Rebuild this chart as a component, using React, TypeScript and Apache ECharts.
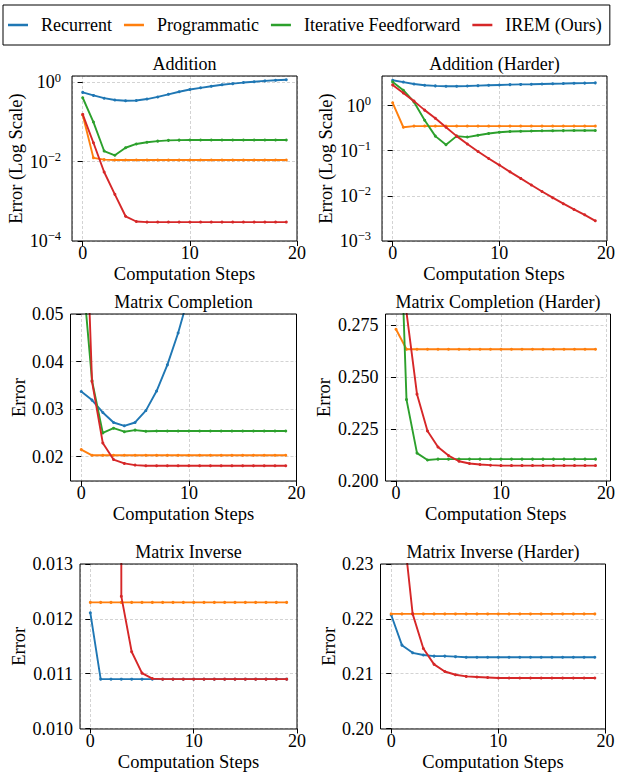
import React, { useEffect, useRef } from 'react';
import * as echarts from 'echarts';

const FONT = '"Liberation Serif", "Times New Roman", Times, serif';

const steps = [0, 1, 2, 3, 4, 5, 6, 7, 8, 9, 10, 11, 12, 13, 14, 15, 16, 17, 18, 19];
const methodNames = ['Recurrent', 'Programmatic', 'Iterative Feedforward', 'IREM (Ours)'];
const methodColors = ['#1f77b4', '#ff7f0e', '#2ca02c', '#d62728'];
const panelTitles = [
  'Addition',
  'Addition (Harder)',
  'Matrix Completion',
  'Matrix Completion (Harder)',
  'Matrix Inverse',
  'Matrix Inverse (Harder)',
];
const panelYNames = ['Error (Log Scale)', 'Error (Log Scale)', 'Error', 'Error', 'Error', 'Error'];
const xAxisName = 'Computation Steps';

// Addition
const additionRecurrent = [0.56, 0.47, 0.40, 0.36, 0.345, 0.35, 0.38, 0.43, 0.50, 0.58, 0.66, 0.73, 0.80, 0.87, 0.93, 0.99, 1.04, 1.09, 1.13, 1.17];
const additionProgrammatic = [0.15, 0.0125, 0.0113, 0.011, 0.011, 0.011, 0.011, 0.011, 0.011, 0.011, 0.011, 0.011, 0.011, 0.011, 0.011, 0.011, 0.011, 0.011, 0.011, 0.011];
const additionIterative = [0.41, 0.10, 0.0186, 0.0145, 0.0225, 0.028, 0.031, 0.033, 0.0345, 0.035, 0.0352, 0.0352, 0.0352, 0.0352, 0.0352, 0.0352, 0.0352, 0.0352, 0.0352, 0.0352];
const additionIREM = [0.156, 0.03, 0.0055, 0.0015, 0.00042, 0.00031, 0.0003, 0.0003, 0.0003, 0.0003, 0.0003, 0.0003, 0.0003, 0.0003, 0.0003, 0.0003, 0.0003, 0.0003, 0.0003, 0.0003];

// Addition (Harder)
const hardAddRecurrent = [3.63, 3.3, 3.0, 2.8, 2.72, 2.67, 2.66, 2.7, 2.75, 2.8, 2.85, 2.9, 2.93, 2.96, 3.0, 3.03, 3.06, 3.1, 3.13, 3.17];
const hardAddProgrammatic = [1.15, 0.33, 0.35, 0.35, 0.35, 0.35, 0.35, 0.35, 0.35, 0.35, 0.35, 0.35, 0.35, 0.35, 0.35, 0.35, 0.35, 0.35, 0.35, 0.35];
const hardAddIterative = [3.33, 2.18, 1.2, 0.47, 0.21, 0.135, 0.21, 0.2, 0.22, 0.24, 0.255, 0.265, 0.27, 0.272, 0.275, 0.277, 0.278, 0.279, 0.28, 0.28];
const hardAddIREM = [2.86, 1.9, 1.25, 0.79, 0.52, 0.33, 0.21, 0.14, 0.096, 0.067, 0.048, 0.034, 0.0243, 0.0174, 0.0125, 0.0091, 0.0067, 0.005, 0.0038, 0.0028];

// Matrix Completion
const completionRecurrent = [0.0337, 0.0319, 0.0293, 0.0272, 0.0265, 0.0272, 0.0297, 0.0338, 0.0393, 0.046, 0.054, 0.063, 0.073, 0.085, 0.098, 0.112, 0.127, 0.143, 0.16, 0.178];
const completionProgrammatic = [0.0215, 0.0203, 0.0203, 0.0203, 0.0203, 0.0203, 0.0203, 0.0203, 0.0203, 0.0203, 0.0203, 0.0203, 0.0203, 0.0203, 0.0203, 0.0203, 0.0203, 0.0203, 0.0203, 0.0203];
const completionIterative = [0.062, 0.036, 0.025, 0.026, 0.02526, 0.0256, 0.02535, 0.0254, 0.0254, 0.0254, 0.0254, 0.0254, 0.0254, 0.0254, 0.0254, 0.0254, 0.0254, 0.0254, 0.0254, 0.0254];
const completionIREM = [0.10, 0.0358, 0.0229, 0.0194, 0.0186, 0.01824, 0.0181, 0.0181, 0.0181, 0.0181, 0.0181, 0.0181, 0.0181, 0.0181, 0.0181, 0.0181, 0.0181, 0.0181, 0.0181, 0.0181];

// Matrix Completion (Harder)
const hardCompletionProgrammatic = [0.2729, 0.2633, 0.2633, 0.2633, 0.2633, 0.2633, 0.2633, 0.2633, 0.2633, 0.2633, 0.2633, 0.2633, 0.2633, 0.2633, 0.2633, 0.2633, 0.2633, 0.2633, 0.2633, 0.2633];
const hardCompletionIterative = [0.386, 0.2391, 0.2134, 0.2101, 0.2105, 0.2105, 0.2105, 0.2105, 0.2105, 0.2105, 0.2105, 0.2105, 0.2105, 0.2105, 0.2105, 0.2105, 0.2105, 0.2105, 0.2105, 0.2105];
const hardCompletionIREM = [0.40, 0.281, 0.2417, 0.224, 0.2163, 0.2122, 0.2095, 0.2084, 0.2079, 0.2076, 0.2074, 0.2074, 0.2074, 0.2074, 0.2074, 0.2074, 0.2074, 0.2074, 0.2074, 0.2074];

// Matrix Inverse
const inverseRecurrent = [0.01211, 0.0109, 0.0109, 0.0109, 0.0109, 0.0109, 0.0109, 0.0109, 0.0109, 0.0109, 0.0109, 0.0109, 0.0109, 0.0109, 0.0109, 0.0109, 0.0109, 0.0109, 0.0109, 0.0109];
const inverseProgrammatic = [0.0123, 0.0123, 0.0123, 0.0123, 0.0123, 0.0123, 0.0123, 0.0123, 0.0123, 0.0123, 0.0123, 0.0123, 0.0123, 0.0123, 0.0123, 0.0123, 0.0123, 0.0123, 0.0123, 0.0123];
const inverseIREM = [1.2, 0.8, 0.3, 0.01241, 0.0114, 0.01101, 0.01091, 0.0109, 0.0109, 0.0109, 0.0109, 0.0109, 0.0109, 0.0109, 0.0109, 0.0109, 0.0109, 0.0109, 0.0109, 0.0109];

// Matrix Inverse (Harder)
const hardInverseRecurrent = [0.2207, 0.2152, 0.2138, 0.2134, 0.2132, 0.2132, 0.2131, 0.213, 0.213, 0.213, 0.213, 0.213, 0.213, 0.213, 0.213, 0.213, 0.213, 0.213, 0.213, 0.213];
const hardInverseProgrammatic = [0.2209, 0.2209, 0.2209, 0.2209, 0.2209, 0.2209, 0.2209, 0.2209, 0.2209, 0.2209, 0.2209, 0.2209, 0.2209, 0.2209, 0.2209, 0.2209, 0.2209, 0.2209, 0.2209, 0.2209];
const hardInverseIREM = [0.27, 0.2391, 0.2209, 0.2146, 0.2117, 0.2104, 0.2098, 0.2095, 0.2094, 0.2093, 0.2092, 0.2092, 0.2092, 0.2092, 0.2092, 0.2092, 0.2092, 0.2092, 0.2092, 0.2092];

const panelData: (number[] | null)[][] = [
  [additionRecurrent, additionProgrammatic, additionIterative, additionIREM],
  [hardAddRecurrent, hardAddProgrammatic, hardAddIterative, hardAddIREM],
  [completionRecurrent, completionProgrammatic, completionIterative, completionIREM],
  [null, hardCompletionProgrammatic, hardCompletionIterative, hardCompletionIREM],
  [inverseRecurrent, inverseProgrammatic, null, inverseIREM],
  [hardInverseRecurrent, hardInverseProgrammatic, null, hardInverseIREM],
];

// layout (pixels)
const gridBoxes = [
  { left: 72, top: 76, width: 225, height: 165 },
  { left: 382, top: 76, width: 225, height: 165 },
  { left: 70.5, top: 314, width: 226, height: 167 },
  { left: 385.5, top: 314, width: 225, height: 167 },
  { left: 80, top: 564, width: 217, height: 165 },
  { left: 380.5, top: 564, width: 225, height: 165 },
];
const yNameGaps = [46, 47, 42.5, 52, 51, 42];

const superLabel = (v: number) => {
  const e = Math.round(Math.log10(v));
  const s = e < 0 ? '\u2212' + String(-e) : String(e);
  return `{b|10}{e|${s}}`;
};

const yAxisSpecs: any[] = [
  { type: 'log', logBase: 10, min: 1e-4, max: 1.45, interval: 2, log: true },
  { type: 'log', logBase: 10, min: 1e-3, max: 4.5, interval: 1, log: true },
  { type: 'value', min: 0.0149, max: 0.05, splitNumber: 4, digits: 2 },
  { type: 'value', min: 0.2, max: 0.2802, interval: 0.025, digits: 3 },
  { type: 'value', min: 0.01, max: 0.013, interval: 0.001, digits: 3 },
  { type: 'value', min: 0.2, max: 0.23, interval: 0.01, digits: 2 },
];

const gridLine = { show: true, lineStyle: { color: '#c8c8c8', type: [3, 2], width: 0.8 } };
const nameStyle = { fontSize: 18.5, fontFamily: FONT, color: '#000', fontWeight: 'normal' };

function buildOption() {
  const grid = gridBoxes.map((g) => ({ ...g, show: false, containLabel: false }));

  const xAxis = gridBoxes.map((_, i) => ({
    gridIndex: i,
    type: 'value',
    min: -1,
    max: 20,
    splitNumber: 2,
    axisLine: { show: false },
    axisTick: { show: true, length: 5, lineStyle: { color: '#000', width: 1 } },
    axisLabel: {
      showMinLabel: false,
      margin: 3,
      fontSize: 18,
      fontWeight: 'normal',
      fontFamily: FONT,
      color: '#000',
      formatter: (v: number) => String(Math.round(v)),
    },
    splitLine: gridLine,
    name: xAxisName,
    nameLocation: 'middle',
    nameGap: 23.5,
    nameTextStyle: nameStyle,
  }));

  const yAxis = yAxisSpecs.map((s, i) => {
    const base: any = {
      gridIndex: i,
      type: s.type,
      min: s.min,
      max: s.max,
      axisLine: { show: false },
      axisTick: { show: true, length: 5, lineStyle: { color: '#000', width: 1 } },
      splitLine: gridLine,
      name: panelYNames[i],
      nameLocation: 'middle',
      nameGap: yNameGaps[i],
      nameTextStyle: nameStyle,
    };
    if (s.interval != null) base.interval = s.interval;
    if (s.splitNumber != null) base.splitNumber = s.splitNumber;
    if (s.log) {
      base.logBase = s.logBase;
      base.axisLabel = {
        showMaxLabel: false,
        margin: 11,
        formatter: superLabel,
        rich: {
          b: { fontSize: 18, fontFamily: FONT, color: '#000', fontWeight: 'normal', lineHeight: 22 },
          e: { fontSize: 12.5, fontFamily: FONT, color: '#000', fontWeight: 'normal', lineHeight: 22, padding: [0, 0, 9.4, 0] },
        },
      };
    } else {
      base.axisLabel = {
        showMinLabel: i === 2 ? false : true,
        showMaxLabel: i === 3 ? false : true,
        margin: 7,
        fontSize: 18,
        fontWeight: 'normal',
        fontFamily: FONT,
        color: '#000',
        formatter: (v: number) => v.toFixed(s.digits),
      };
    }
    return base;
  });

  const series: any[] = [];
  panelData.forEach((arrs, p) => {
    arrs.forEach((arr, m) => {
      if (!arr) return;
      series.push({
        type: 'line',
        name: methodNames[m],
        xAxisIndex: p,
        yAxisIndex: p,
        data: steps.map((s, k) => [s, arr[k]]),
        showSymbol: true,
        symbol: 'circle',
        symbolSize: 3,
        clip: true,
        lineStyle: { color: methodColors[m], width: 1.9 },
        itemStyle: { color: methodColors[m] },
        emphasis: { disabled: true },
        z: 2 + m,
      });
    });
  });

  const title = gridBoxes.map((g, i) => ({
    text: panelTitles[i],
    left: g.left + g.width / 2,
    top: g.top - 21,
    textAlign: 'center',
    padding: 0,
    textStyle: { fontSize: 18, fontWeight: 'normal', fontFamily: FONT, color: '#000' },
  }));

  const frames = gridBoxes.map((g) => ({
    type: 'rect',
    z: 100,
    silent: true,
    shape: { x: g.left, y: g.top, width: g.width, height: g.height },
    style: { fill: 'none', stroke: '#000', lineWidth: 1 },
  }));

  return {
    animation: false,
    backgroundColor: '#ffffff',
    title,
    graphic: frames,
    legend: {
      data: methodNames,
      left: 3,
      top: 5,
      orient: 'horizontal',
      icon: 'rect',
      itemWidth: 20,
      itemHeight: 2.5,
      itemGap: 12,
      padding: [11, 8, 11, 5],
      borderColor: '#000',
      borderWidth: 1,
      borderRadius: 0,
      selectedMode: false,
      textStyle: { fontSize: 18, fontWeight: 'normal', fontFamily: FONT, color: '#000', padding: [0, 0, 0, 8] },
    },
    grid,
    xAxis,
    yAxis,
    series,
  };
}

export default function App() {
  const ref = useRef<HTMLDivElement>(null);
  useEffect(() => {
    if (!ref.current) return;
    const chart = echarts.init(ref.current, undefined, { renderer: 'svg' });
    chart.setOption(buildOption() as any);
    return () => chart.dispose();
  }, []);
  return (
    <div
      ref={ref}
      style={{ position: 'fixed', left: 0, top: 0, width: 618, height: 772, background: '#fff' }}
    />
  );
}
